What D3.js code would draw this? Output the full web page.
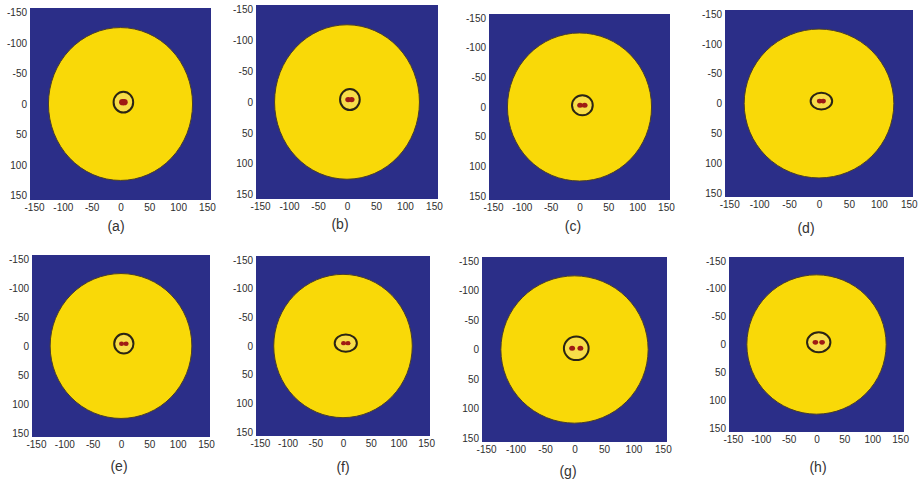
<!DOCTYPE html>
<html>
<head>
<meta charset="utf-8">
<script src="https://cdn.jsdelivr.net/npm/d3@7"></script>
<style>
  body { margin: 0; background: #fff; }
  svg { display: block; }
  .tick text { font-family: "Liberation Sans", Arial, sans-serif; font-size: 10px; fill: #2e2e2e; }
</style>
</head>
<body>
<div id="chart"></div>
<script>
// panel names and axis ticks
var panelLabels = ["(a)", "(b)", "(c)", "(d)", "(e)", "(f)", "(g)", "(h)"];
var tickValues = [-150, -100, -50, 0, 50, 100, 150];
var domainExtent = [-157, 157];

// big disc (same in every panel)
var discCenter = [0, 0];
var discRadius = 125;

// contour ring around the pair, per panel
var ringX  = [5, 5, 5, 4, 5, 5, 3, 4];
var ringY  = [-3, -4, -3, -4, -4, -5, -2, -4];
var ringRx = [17, 17, 18, 18, 17, 20, 21, 21];
var ringRy = [17, 17, 17, 14, 17, 15, 20, 18];

// red particles: half distance between the two and their radius
var dotHalfGap = [1.5, 3, 4, 3, 4, 4, 7, 6];
var dotRadius  = [6, 5, 5, 4.5, 4.5, 4.5, 5, 5];

// where each panel sits on the page (lx, ly = centre of the panel label)
var boxes = [
    {x: 30,  y: 8,   w: 181, h: 192, lx: 116, ly: 226},
    {x: 256, y: 5,   w: 182, h: 194, lx: 340, ly: 224},
    {x: 489, y: 14,  w: 181, h: 186, lx: 573, ly: 226},
    {x: 725, y: 10,  w: 188, h: 187, lx: 806, ly: 228},
    {x: 32,  y: 255, w: 178, h: 182, lx: 119, ly: 466},
    {x: 256, y: 256, w: 174, h: 180, lx: 343, ly: 467},
    {x: 482, y: 257, w: 185, h: 185, lx: 568, ly: 471},
    {x: 729, y: 257, w: 175, h: 175, lx: 818, ly: 467}
];

var svg = d3.select("#chart")
    .append("svg")
    .attr("width", 922)
    .attr("height", 484);

panelLabels.forEach(function (label, i) {
    var b = boxes[i];

    var x = d3.scaleLinear().domain(domainExtent).range([0, b.w]);
    var y = d3.scaleLinear().domain(domainExtent).range([0, b.h]); // reversed: -150 at top

    var g = svg.append("g")
        .attr("transform", "translate(" + b.x + "," + b.y + ")");

    g.append("rect")
        .attr("width", b.w)
        .attr("height", b.h)
        .attr("fill", "#2b2e88");

    g.append("ellipse")
        .attr("cx", x(discCenter[0]))
        .attr("cy", y(discCenter[1]))
        .attr("rx", x(discRadius) - x(0))
        .attr("ry", y(discRadius) - y(0))
        .attr("fill", "#f9d908")
        .attr("stroke", "#4a3e2a")
        .attr("stroke-width", 1);

    // slightly paler area inside the ring
    g.append("ellipse")
        .attr("cx", x(ringX[i]))
        .attr("cy", y(ringY[i]))
        .attr("rx", x(ringRx[i] - 2) - x(0))
        .attr("ry", y(ringRy[i] - 2) - y(0))
        .attr("fill", "#f7dd4a");

    g.append("ellipse")
        .attr("cx", x(ringX[i]))
        .attr("cy", y(ringY[i]))
        .attr("rx", x(ringRx[i]) - x(0))
        .attr("ry", y(ringRy[i]) - y(0))
        .attr("fill", "none")
        .attr("stroke", "#2a2416")
        .attr("stroke-width", 2);

    var dots = [ringX[i] - dotHalfGap[i], ringX[i] + dotHalfGap[i]];
    g.selectAll("ellipse.dot")
        .data(dots)
        .enter()
        .append("ellipse")
        .attr("class", "dot")
        .attr("cx", function (d) { return x(d); })
        .attr("cy", y(ringY[i]))
        .attr("rx", x(dotRadius[i]) - x(0))
        .attr("ry", y(dotRadius[i] * 0.85) - y(0))
        .attr("fill", "#9e1a14");

    // axes, labels only
    g.append("g")
        .attr("transform", "translate(0," + b.h + ")")
        .call(d3.axisBottom(x).tickValues(tickValues).tickFormat(String).tickSize(0).tickPadding(4))
        .call(function (a) { a.select(".domain").remove(); });

    g.append("g")
        .call(d3.axisLeft(y).tickValues(tickValues).tickFormat(String).tickSize(0).tickPadding(3))
        .call(function (a) { a.select(".domain").remove(); });

    svg.append("text")
        .attr("x", b.lx)
        .attr("y", b.ly)
        .attr("dy", "0.35em")
        .attr("text-anchor", "middle")
        .attr("font-family", "Liberation Sans, Arial, sans-serif")
        .attr("font-size", 14)
        .attr("fill", "#333")
        .text(label);
});
</script>
</body>
</html>
